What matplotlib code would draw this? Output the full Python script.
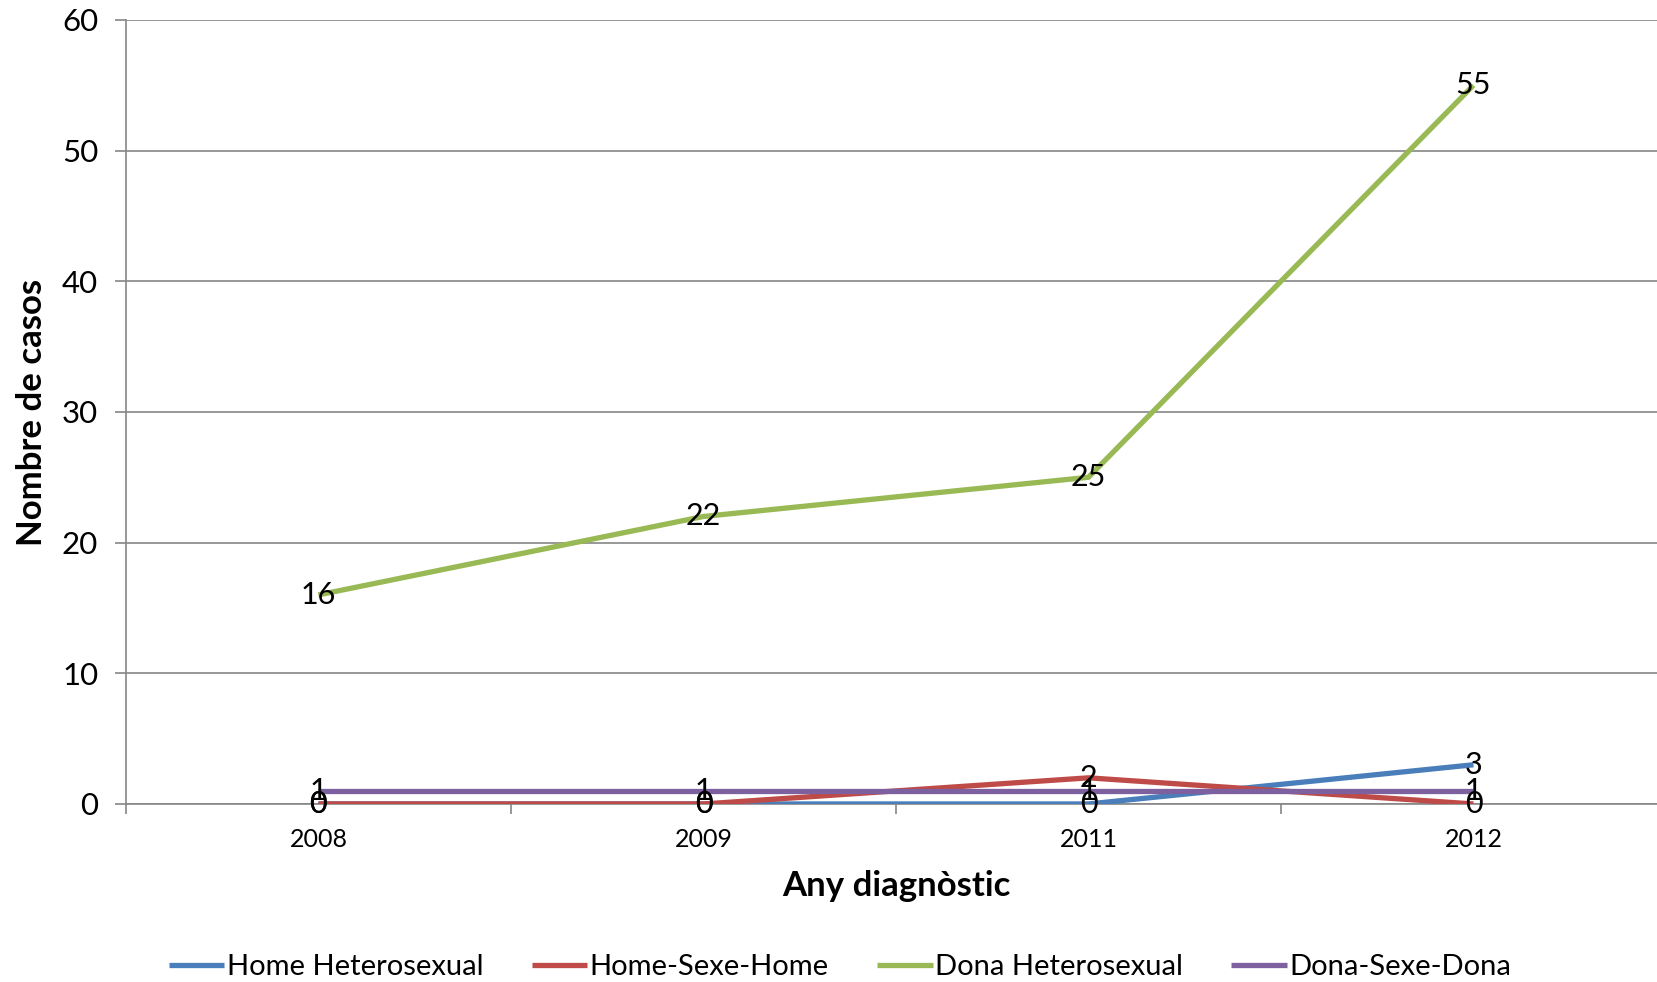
import matplotlib
matplotlib.use("Agg")
import matplotlib.pyplot as plt
from matplotlib.ticker import FixedLocator

plt.rcParams['font.family'] = ['Lato', 'DejaVu Sans']

years = ["2008", "2009", "2011", "2012"]
series_names = ["Home Heterosexual", "Home-Sexe-Home", "Dona Heterosexual", "Dona-Sexe-Dona"]
home_hetero = [0, 0, 0, 3]
home_sexe_home = [0, 0, 2, 0]
dona_hetero = [16, 22, 25, 55]
dona_sexe_dona = [1, 1, 1, 1]
colors = ["#4A7EBB", "#BE4B48", "#98B954", "#7D60A0"]
y_ticks = [0, 10, 20, 30, 40, 50, 60]

series = [home_hetero, home_sexe_home, dona_hetero, dona_sexe_dona]

fig = plt.figure(figsize=(16.57, 9.82), dpi=100)
ax = fig.add_axes([0.076, 0.1813, 0.9294, 0.7984])

x = list(range(len(years)))
handles = []
for name, vals, c in zip(series_names, series, colors):
    h, = ax.plot(x, vals, color=c, linewidth=3.8, label=name, solid_capstyle='butt', zorder=3)
    handles.append(h)

for vals in series:
    for xi, v in zip(x, vals):
        ax.text(xi, v, str(v), ha='center', va='center', fontsize=22, color='black', zorder=5)

ax.set_xlim(-0.5, len(years) - 0.5)
ax.set_ylim(0, 60)
ax.set_yticks(y_ticks)
ax.yaxis.grid(True, color='#868686', linewidth=1.2)
ax.set_axisbelow(True)

ax.set_xticks(x)
ax.set_xticklabels(years, fontsize=18)
ax.xaxis.set_minor_locator(FixedLocator([i - 0.5 for i in range(len(years) + 1)]))
ax.tick_params(axis='x', which='major', length=0, pad=17)
ax.tick_params(axis='x', which='minor', length=7, color='#868686', width=1.2)
ax.tick_params(axis='y', length=8, color='#868686', width=1.2, labelsize=22.5, pad=12)

for s in ['top', 'right']:
    ax.spines[s].set_visible(False)
for s in ['left', 'bottom']:
    ax.spines[s].set_color('#868686')
    ax.spines[s].set_linewidth(1.2)

ax.set_xlabel("Any diagnòstic", fontsize=25, fontweight='bold', labelpad=14)
ax.set_ylabel("Nombre de casos", fontsize=25, fontweight='bold', labelpad=10)

fig.legend(handles=handles, loc='center', bbox_to_anchor=(0.507, 0.0155), ncol=4,
           frameon=False, fontsize=21, handlelength=1.9, handletextpad=0.1,
           columnspacing=1.65)

fig.savefig("out.png", dpi=100)
